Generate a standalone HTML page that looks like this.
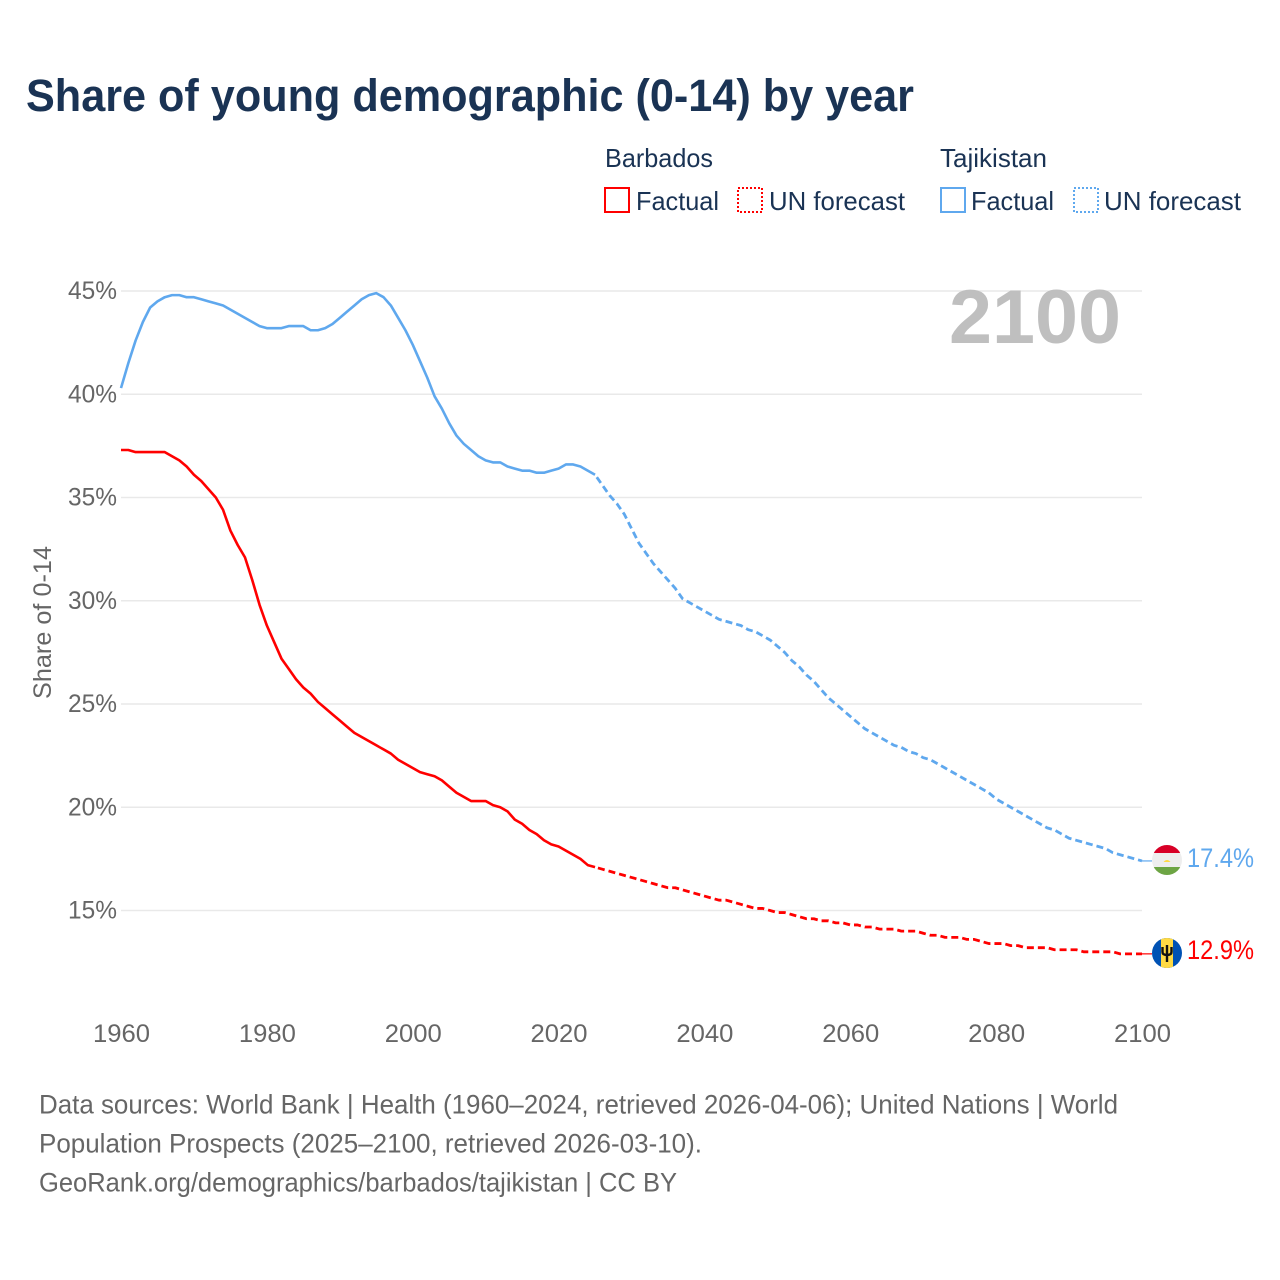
<!DOCTYPE html>
<html lang="en">
<head>
<meta charset="utf-8">
<title>Share of young demographic (0-14) by year</title>
<style>
html,body{margin:0;padding:0;background:#fff;width:1280px;height:1280px;overflow:hidden}
svg{display:block}
text{font-family:"Liberation Sans",sans-serif}
</style>
</head>
<body>
<svg id="chart" width="1280" height="1280" viewBox="0 0 1280 1280" xmlns="http://www.w3.org/2000/svg">
  <defs>
    <clipPath id="clip-tj"><circle cx="1167" cy="860" r="15"/></clipPath>
    <clipPath id="clip-bb"><circle cx="1167" cy="953" r="15"/></clipPath>
  </defs>
  <rect x="0" y="0" width="1280" height="1280" fill="#fff"/>
  <text x="26" y="111" font-size="45" font-weight="700" fill="#1a3354" textLength="888" lengthAdjust="spacingAndGlyphs">Share of young demographic (0-14) by year</text>

  <g font-size="26" fill="#1a3354">
    <text x="605" y="167" textLength="108" lengthAdjust="spacingAndGlyphs">Barbados</text>
    <rect x="605" y="188" width="24" height="24" fill="none" stroke="#ff0000" stroke-width="2"/>
    <text x="636" y="210" textLength="83" lengthAdjust="spacingAndGlyphs">Factual</text>
    <rect x="738" y="188" width="24" height="24" fill="none" stroke="#ff0000" stroke-width="2" stroke-dasharray="2 2"/>
    <text x="769" y="210" textLength="136" lengthAdjust="spacingAndGlyphs">UN forecast</text>
    <text x="940" y="167" textLength="107" lengthAdjust="spacingAndGlyphs">Tajikistan</text>
    <rect x="941" y="188" width="24" height="24" fill="none" stroke="#5fa8ee" stroke-width="2"/>
    <text x="971" y="210" textLength="83" lengthAdjust="spacingAndGlyphs">Factual</text>
    <rect x="1074" y="188" width="24" height="24" fill="none" stroke="#5fa8ee" stroke-width="2" stroke-dasharray="2 2"/>
    <text x="1104" y="210" textLength="137" lengthAdjust="spacingAndGlyphs">UN forecast</text>
  </g>

  <g id="grid"></g>
  <g id="y-ticks"></g>
  <g id="x-ticks"></g>
  <text transform="translate(51,699) rotate(-90)" font-size="25" fill="#666" textLength="153" lengthAdjust="spacingAndGlyphs">Share of 0-14</text>
  <text x="949" y="343" font-size="76" font-weight="700" fill="#bfbfbf" textLength="172" lengthAdjust="spacingAndGlyphs">2100</text>

  <g id="series"></g>

  <g clip-path="url(#clip-tj)">
    <rect x="1150" y="843" width="34" height="34" fill="#eeeeee"/>
    <rect x="1150" y="843" width="34" height="10" fill="#d80027"/>
    <rect x="1150" y="867" width="34" height="10" fill="#6da544"/>
    <path d="M1163.500 862q3.500-4 7 0z" fill="#ffda44"/>
  </g>
  <g clip-path="url(#clip-bb)">
    <rect x="1150" y="936" width="34" height="34" fill="#0052b4"/>
    <rect x="1161" y="936" width="12" height="34" fill="#ffda44"/>
    <path d="M1167 945v17M1162.500 947v5q0 3 4.500 3t4.500-3v-5" fill="none" stroke="#111" stroke-width="2.400"/>
  </g>
  <text x="1187" y="867" font-size="26.500" fill="#5fa8ee" textLength="67" lengthAdjust="spacingAndGlyphs">17.4%</text>
  <text x="1187" y="959" font-size="26.500" fill="#ff0000" textLength="67" lengthAdjust="spacingAndGlyphs">12.9%</text>

  <g font-size="26.500" fill="#666">
    <text x="39" y="1113.500" textLength="1079" lengthAdjust="spacingAndGlyphs">Data sources: World Bank | Health (1960–2024, retrieved 2026-04-06); United Nations | World</text>
    <text x="39" y="1152.500" textLength="663" lengthAdjust="spacingAndGlyphs">Population Prospects (2025–2100, retrieved 2026-03-10).</text>
    <text x="39" y="1191.500" textLength="638" lengthAdjust="spacingAndGlyphs">GeoRank.org/demographics/barbados/tajikistan | CC BY</text>
  </g>
</svg>
<script>
const firstYear = 1960;
const lastYear = 2100;
const xTickYears = [1960, 1980, 2000, 2020, 2040, 2060, 2080, 2100];
const yTickValues = [15, 20, 25, 30, 35, 40, 45];
const tajikistanFactual = [
  40.3,41.5,42.6,43.5,44.2,44.5,44.7,44.8,44.8,44.7,
  44.7,44.6,44.5,44.4,44.3,44.1,43.9,43.7,43.5,43.3,
  43.2,43.2,43.2,43.3,43.3,43.3,43.1,43.1,43.2,43.4,
  43.7,44.0,44.3,44.6,44.8,44.9,44.7,44.3,43.7,43.1,
  42.4,41.6,40.8,39.9,39.3,38.6,38.0,37.6,37.3,37.0,
  36.8,36.7,36.7,36.5,36.4,36.3,36.3,36.2,36.2,36.3,
  36.4,36.6,36.6,36.5,36.3,36.1
];
const tajikistanForecast = [
  35.6,35.1,34.7,34.2,33.5,32.8,32.3,31.8,31.4,31.0,
  30.6,30.1,29.9,29.7,29.5,29.3,29.1,29.0,28.9,28.8,
  28.6,28.5,28.3,28.1,27.8,27.5,27.1,26.8,26.4,26.1,
  25.7,25.3,25.0,24.7,24.4,24.1,23.8,23.6,23.4,23.2,
  23.0,22.9,22.7,22.6,22.4,22.3,22.1,21.9,21.7,21.5,
  21.3,21.1,20.9,20.7,20.4,20.2,20.0,19.8,19.6,19.4,
  19.2,19.0,18.9,18.7,18.5,18.4,18.3,18.2,18.1,18.0,
  17.8,17.7,17.6,17.5,17.4
];
const barbadosFactual = [
  37.3,37.3,37.2,37.2,37.2,37.2,37.2,37.0,36.8,36.5,
  36.1,35.8,35.4,35.0,34.4,33.4,32.7,32.1,31.0,29.8,
  28.8,28.0,27.2,26.7,26.2,25.8,25.5,25.1,24.8,24.5,
  24.2,23.9,23.6,23.4,23.2,23.0,22.8,22.6,22.3,22.1,
  21.9,21.7,21.6,21.5,21.3,21.0,20.7,20.5,20.3,20.3,
  20.3,20.1,20.0,19.8,19.4,19.2,18.9,18.7,18.4,18.2,
  18.1,17.9,17.7,17.5,17.2,17.1
];
const barbadosForecast = [
  17.0,16.9,16.8,16.7,16.6,16.5,16.4,16.3,16.2,16.1,
  16.1,16.0,15.9,15.8,15.7,15.6,15.5,15.5,15.4,15.3,
  15.2,15.1,15.1,15.0,14.9,14.9,14.8,14.7,14.6,14.6,
  14.5,14.5,14.4,14.4,14.3,14.3,14.2,14.2,14.1,14.1,
  14.1,14.0,14.0,14.0,13.9,13.8,13.8,13.7,13.7,13.7,
  13.6,13.6,13.5,13.4,13.4,13.4,13.3,13.3,13.2,13.2,
  13.2,13.2,13.1,13.1,13.1,13.1,13.0,13.0,13.0,13.0,
  13.0,12.9,12.9,12.9,12.9
];

const NS = 'http://www.w3.org/2000/svg';
const plotLeft = 121, plotRight = 1142;
const y45 = 291, y15 = 910.5;
function xScale(year){ return plotLeft + (year - firstYear) * (plotRight - plotLeft) / (lastYear - firstYear); }
function yScale(v){ return y15 + (v - 15) * (y45 - y15) / 30; }
function make(tag, attrs, parent){
  const el = document.createElementNS(NS, tag);
  for (const k in attrs) el.setAttribute(k, attrs[k]);
  parent.appendChild(el);
  return el;
}
const gridG = document.getElementById('grid');
const yG = document.getElementById('y-ticks');
const xG = document.getElementById('x-ticks');
const seriesG = document.getElementById('series');

yTickValues.forEach(function(v){
  const line = make('line', {x1: plotLeft, x2: plotRight, y1: yScale(v), y2: yScale(v), stroke: '#e9e9e9', 'stroke-width': 1.5}, gridG);
  
  
  const t = make('text', {x: 68, y: yScale(v) + 8, 'font-size': 25, fill: '#666', textLength: 49, lengthAdjust: 'spacingAndGlyphs'}, yG);
  t.textContent = v + '%';
  
  
});
xTickYears.forEach(function(yr){
  const t = make('text', {x: xScale(yr) - 28, y: 1042, 'font-size': 25, fill: '#666', textLength: 57, lengthAdjust: 'spacingAndGlyphs'}, xG);
  t.textContent = String(yr);
  
  
});
function pathFrom(startYear, values){
  return values.map(function(v, i){
    return (i ? 'L' : 'M') + xScale(startYear + i).toFixed(2) + ' ' + yScale(v).toFixed(2);
  }).join(' ');
}
function drawCountry(key, color, factual, forecast, flagX){
  const factualEnd = firstYear + factual.length - 1;
  const solid = make('path', {d: pathFrom(firstYear, factual), fill: 'none', stroke: color, 'stroke-width': 2.6, 'stroke-linejoin': 'round', 'stroke-linecap': 'butt'}, seriesG);
  
  
  const joined = [factual[factual.length - 1]].concat(forecast);
  const dashed = make('path', {d: pathFrom(factualEnd, joined), fill: 'none', stroke: color, 'stroke-width': 2.8, 'stroke-linejoin': 'round', 'stroke-dasharray': '7 4', 'stroke-dashoffset': -3}, seriesG);
  
  
  const lastValue = forecast[forecast.length - 1];
  const conn = make('line', {x1: xScale(lastYear), x2: flagX, y1: yScale(lastValue), y2: yScale(lastValue), stroke: color, 'stroke-width': 1.2}, seriesG);
  
  
}
drawCountry('tajikistan', '#5fa8ee', tajikistanFactual, tajikistanForecast, 1152);
drawCountry('barbados', '#ff0000', barbadosFactual, barbadosForecast, 1152);
</script>
</body>
</html>
